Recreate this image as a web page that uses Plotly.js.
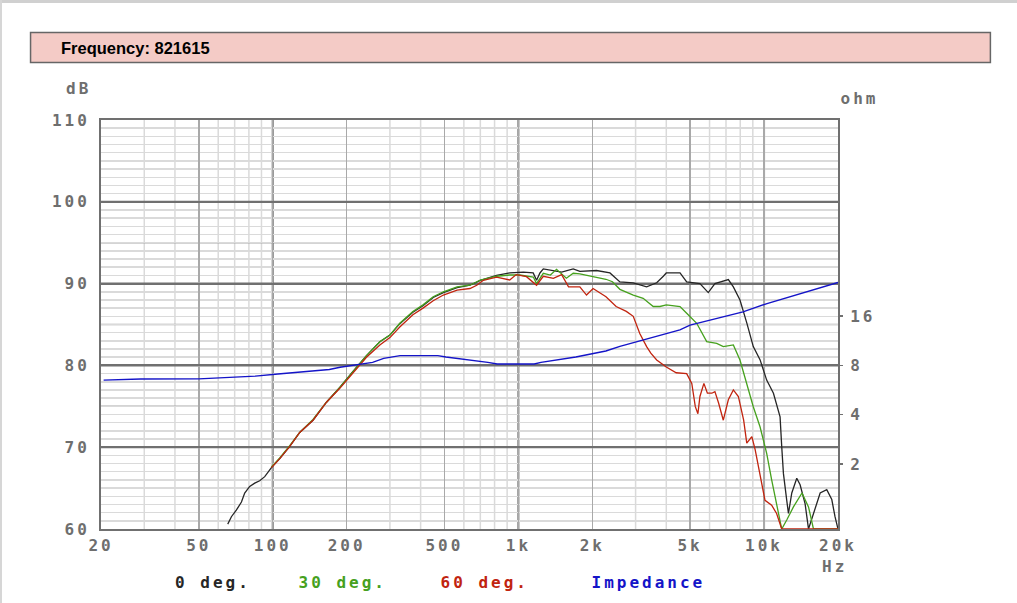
<!DOCTYPE html>
<html>
<head>
<meta charset="utf-8">
<script src="https://cdn.plot.ly/plotly-3.0.1.min.js"></script>
<style>
  html, body { margin: 0; padding: 0; background: #ffffff; }
  #wrap { position: relative; width: 1017px; height: 603px; overflow: hidden; }
  #chart { position: absolute; left: 0; top: 0; width: 1017px; height: 603px; }
  #topband { position: absolute; left: 0; top: 0; width: 1017px; height: 3px; background: #d0d0d0; }
  #leftband { position: absolute; left: 0; top: 0; width: 2px; height: 603px; background: #d6d6d6; }
  .xtick text, .ytick text, .y2tick text { letter-spacing: 3px; }
  g.annotation text { letter-spacing: 3px; }
  g.annotation[data-index="0"] text { letter-spacing: 0px; }
</style>
</head>
<body>
<div id="wrap">
  <div id="chart"></div>
  <div id="topband"></div>
  <div id="leftband"></div>
</div>
<script>
// ---------------- data ----------------
var xTickVals = [20, 50, 100, 200, 500, 1000, 2000, 5000, 10000, 20000];
var xTickText = ['20', '50', '100', '200', '500', '1k', '2k', '5k', '10k', '20k'];
var yTickVals = [60, 70, 80, 90, 100, 110];
var ohmTickVals = [2, 4, 8, 16];
var ohmTickText = ['2', '4', '8', '16'];

// 0 deg. (black)
var freq0 = [65.6, 67.9, 71.1, 74.6, 76.9, 80.6, 84.5, 88.5, 92.8, 98.8, 106.8, 117.3, 128.8, 145.9, 165.5, 187.5, 212.6, 240.8, 273, 300, 329, 372, 409, 450, 495, 563, 635, 700, 815, 870, 922, 1048, 1149, 1186, 1224, 1263, 1388, 1500, 1672, 1779, 2080, 2359, 2590, 2935, 3327, 3656, 3890, 4000, 4550, 4842, 5483, 5929, 6310, 7155, 7500, 7980, 8505, 9040, 9630, 10250, 10920, 11620, 11800, 11990, 12370, 12570, 12970, 13590, 14020, 14690, 15170, 15890, 16920, 18000, 18870, 19450, 20000];
var spl0  = [60.6, 61.5, 62.3, 63.3, 64.4, 65.2, 65.6, 65.9, 66.4, 67.5, 68.6, 70.1, 71.8, 73.3, 75.5, 77.3, 79.3, 81.2, 82.9, 83.7, 85.1, 86.5, 87.3, 88.3, 88.9, 89.5, 89.8, 90.4, 91.0, 91.2, 91.3, 91.4, 91.3, 90.4, 91.3, 91.8, 91.6, 91.4, 91.8, 91.5, 91.6, 91.3, 90.2, 90.1, 89.6, 90.1, 90.9, 91.3, 91.3, 90.2, 90.0, 88.9, 90.0, 90.5, 89.6, 88.0, 85.2, 82.3, 80.7, 78.2, 76.6, 73.7, 70.1, 66.8, 63.5, 61.9, 64.4, 66.2, 65.4, 63.1, 60.0, 61.9, 64.4, 64.8, 63.6, 61.5, 60.0];

// 30 deg. (green)
var freq30 = [98.8, 106.8, 117.3, 128.8, 145.9, 165.5, 187.5, 212.6, 240.8, 273, 300, 329, 372, 409, 450, 495, 563, 635, 700, 815, 922, 1013, 1079, 1150, 1186, 1263, 1350, 1430, 1568, 1672, 1779, 2014, 2273, 2415, 2590, 2935, 3220, 3540, 3770, 4000, 4550, 4842, 5320, 5843, 6417, 6826, 7500, 7980, 8505, 9040, 9630, 10250, 10740, 11250, 11800, 12370, 13170, 14270, 15170, 15890, 20000];
var spl30  = [67.6, 68.7, 70.2, 71.8, 73.4, 75.5, 77.3, 79.3, 81.2, 82.9, 83.7, 85.15, 86.6, 87.4, 88.4, 89.0, 89.6, 89.8, 90.44, 90.9, 91.05, 91.05, 90.93, 90.8, 90.0, 91.26, 91.05, 91.75, 90.65, 91.26, 91.2, 90.85, 90.53, 90.23, 89.3, 88.6, 88.2, 87.2, 87.2, 87.4, 87.2, 86.37, 85.15, 82.9, 82.7, 82.3, 82.5, 80.66, 77.8, 74.95, 72.5, 69.25, 66.0, 63.1, 60.0, 61.1, 62.7, 64.4, 62.7, 60.0, 60.0];

// 60 deg. (red)
var freq60 = [98.8, 106.8, 117.3, 128.8, 145.9, 165.5, 187.5, 212.6, 240.8, 273, 300, 329, 372, 409, 450, 495, 563, 635, 677, 720, 815, 922, 980, 1079, 1186, 1263, 1388, 1500, 1600, 1779, 1894, 2014, 2273, 2500, 2750, 2935, 3120, 3327, 3460, 3656, 4000, 4390, 4842, 5080, 5250, 5380, 5483, 5690, 5880, 6130, 6310, 6530, 6826, 7155, 7500, 7860, 8260, 8505, 8920, 9200, 9630, 10090, 10740, 11250, 11800, 20000];
var spl60  = [67.5, 68.6, 70.1, 71.8, 73.3, 75.5, 77.2, 79.1, 81.0, 82.5, 83.4, 84.7, 86.2, 87.0, 87.9, 88.6, 89.2, 89.4, 89.8, 90.4, 90.8, 90.44, 91.1, 90.85, 89.8, 90.9, 90.65, 91.1, 89.6, 89.6, 88.6, 89.4, 88.4, 87.2, 86.6, 86.0, 83.9, 82.3, 81.5, 80.66, 79.8, 79.1, 79.0, 77.8, 74.95, 74.1, 76.2, 77.8, 76.6, 76.6, 76.8, 75.4, 73.3, 75.8, 77.0, 76.2, 73.3, 70.5, 71.3, 69.7, 66.8, 63.5, 62.9, 61.9, 60.0, 60.0];

// Impedance (blue, ohm)
var freqZ = [20.5, 29, 50, 60, 85, 105, 125, 145, 170, 188, 205, 228, 255, 283, 330, 400, 470, 507, 578, 653, 751, 820, 1000, 1160, 1236, 1382, 1560, 1713, 1882, 2070, 2270, 2590, 3336, 4544, 4998, 8210, 10280, 14020, 20000];
var ohmZ  = [6.5, 6.6, 6.62, 6.72, 6.88, 7.09, 7.25, 7.43, 7.55, 7.8, 7.97, 8.16, 8.35, 8.84, 9.18, 9.18, 9.18, 9.0, 8.79, 8.54, 8.35, 8.16, 8.16, 8.16, 8.35, 8.54, 8.79, 9.0, 9.26, 9.5, 9.8, 10.46, 11.6, 13.2, 14.1, 17.0, 19.1, 22.0, 25.7];

var seriesNames = ['0 deg.', '30 deg.', '60 deg.', 'Impedance'];
var seriesColors = ['#262626', '#46a11e', '#c1240f', '#1414c8'];
var headerText = 'Frequency: 821615';

// ---------------- layout helpers ----------------
var W = 1017, H = 603;
var L = 101, R = 838.5, T = 120, B = 529;
function px(xp) { return (xp - L) / (R - L); }
function py(yp) { return (B - yp) / (B - T); }

var tickFont = { family: 'DejaVu Sans Mono', size: 16, color: '#6e6e6e', weight: 'bold' };
var gridDark = '#707070', gridMid = '#a9a9a9', gridLight = '#dadada';

var traces = [
  { x: freq0, y: spl0, type: 'scatter', mode: 'lines', name: seriesNames[0], line: { color: seriesColors[0], width: 1.3 } },
  { x: freq30, y: spl30, type: 'scatter', mode: 'lines', name: seriesNames[1], line: { color: seriesColors[1], width: 1.3 } },
  { x: freq60, y: spl60, type: 'scatter', mode: 'lines', name: seriesNames[2], line: { color: seriesColors[2], width: 1.3 } },
  { x: freqZ, y: ohmZ, type: 'scatter', mode: 'lines', name: seriesNames[3], yaxis: 'y2', line: { color: seriesColors[3], width: 1.4 } }
];

var lightFreqs = [30, 40, 60, 70, 80, 90, 300, 400, 600, 700, 800, 900, 3000, 4000, 6000, 7000, 8000, 9000];
var shapes = [];
// header box
shapes.push({ type: 'rect', xref: 'paper', yref: 'paper', x0: px(30.5), x1: px(991), y0: py(62.5), y1: py(32.5),
  fillcolor: '#f4cbc6', line: { color: '#666666', width: 1.5 }, layer: 'above' });
// light vertical lines
lightFreqs.forEach(function (f) {
  shapes.push({ type: 'line', xref: 'x', yref: 'paper', x0: f, x1: f, y0: 0, y1: 1, line: { color: gridLight, width: 1.5 }, layer: 'below' });
});
// medium 5 dB lines
[65, 75, 85, 95, 105].forEach(function (v) {
  shapes.push({ type: 'line', xref: 'paper', yref: 'y', x0: 0, x1: 1, y0: v, y1: v, line: { color: gridMid, width: 1.5 }, layer: 'below' });
});
// dark 10 dB lines
[70, 80, 90, 100].forEach(function (v) {
  shapes.push({ type: 'line', xref: 'paper', yref: 'y', x0: 0, x1: 1, y0: v, y1: v, line: { color: gridDark, width: 2 }, layer: 'below' });
});
// dark decade lines
[100, 1000, 10000].forEach(function (f) {
  shapes.push({ type: 'line', xref: 'x', yref: 'paper', x0: f, x1: f, y0: 0, y1: 1, line: { color: gridDark, width: 2 }, layer: 'below' });
});

var labelFont = { family: 'DejaVu Sans Mono', size: 16, color: '#6e6e6e', weight: 'bold' };
var annotations = [
  { xref: 'paper', yref: 'paper', x: px(59), y: py(48), xanchor: 'left', yanchor: 'middle', showarrow: false,
    text: headerText, font: { family: 'Liberation Sans', size: 16.5, color: '#000000', weight: 'bold' } },
  { xref: 'paper', yref: 'paper', x: px(79), y: py(88), xanchor: 'center', yanchor: 'middle', showarrow: false, text: 'dB', font: labelFont },
  { xref: 'paper', yref: 'paper', x: px(860), y: py(99), xanchor: 'center', yanchor: 'middle', showarrow: false, text: 'ohm', font: labelFont },
  { xref: 'paper', yref: 'paper', x: px(835), y: py(566), xanchor: 'center', yanchor: 'middle', showarrow: false, text: 'Hz', font: labelFont }
];
var legendCenters = [213, 343, 485, 649];
seriesNames.forEach(function (n, i) {
  annotations.push({ xref: 'paper', yref: 'paper', x: px(legendCenters[i]), y: py(582), xanchor: 'center', yanchor: 'middle',
    showarrow: false, text: n, font: { family: 'DejaVu Sans Mono', size: 16, color: seriesColors[i], weight: 'bold' } });
});

var layout = {
  width: W, height: H,
  margin: { l: L, r: W - R, t: T, b: H - B, pad: 0 },
  paper_bgcolor: '#ffffff', plot_bgcolor: '#ffffff',
  showlegend: false,
  xaxis: {
    type: 'log', range: [Math.log10(20), Math.log10(20000)],
    tickmode: 'array', tickvals: xTickVals, ticktext: xTickText,
    ticks: '', ticklabelstandoff: 1, tickfont: tickFont,
    showgrid: true, gridcolor: gridMid, gridwidth: 1.5,
    showline: true, mirror: true, linecolor: gridDark, linewidth: 2,
    zeroline: false, layer: 'below traces', fixedrange: true
  },
  yaxis: {
    range: [60, 110], tickmode: 'array', tickvals: yTickVals,
    ticks: '', ticklabelstandoff: 6, tickfont: tickFont,
    showgrid: true, gridcolor: gridDark, gridwidth: 2,
    minor: { dtick: 1, showgrid: true, gridcolor: gridLight, gridwidth: 1.5, ticks: '' },
    showline: true, mirror: true, linecolor: gridDark, linewidth: 2,
    zeroline: false, layer: 'below traces', fixedrange: true
  },
  yaxis2: {
    type: 'log', overlaying: 'y', side: 'right',
    range: [Math.log10(0.8), Math.log10(8 * Math.pow(10, 1.5))],
    tickmode: 'array', tickvals: ohmTickVals, ticktext: ohmTickText,
    ticks: 'outside', ticklen: 4, tickwidth: 1.5, tickcolor: gridDark, ticklabelstandoff: 4,
    tickfont: tickFont, showgrid: false, showline: false, zeroline: false, fixedrange: true
  },
  shapes: shapes,
  annotations: annotations
};

Plotly.newPlot('chart', traces, layout, { displayModeBar: false, staticPlot: true });
</script>
</body>
</html>
